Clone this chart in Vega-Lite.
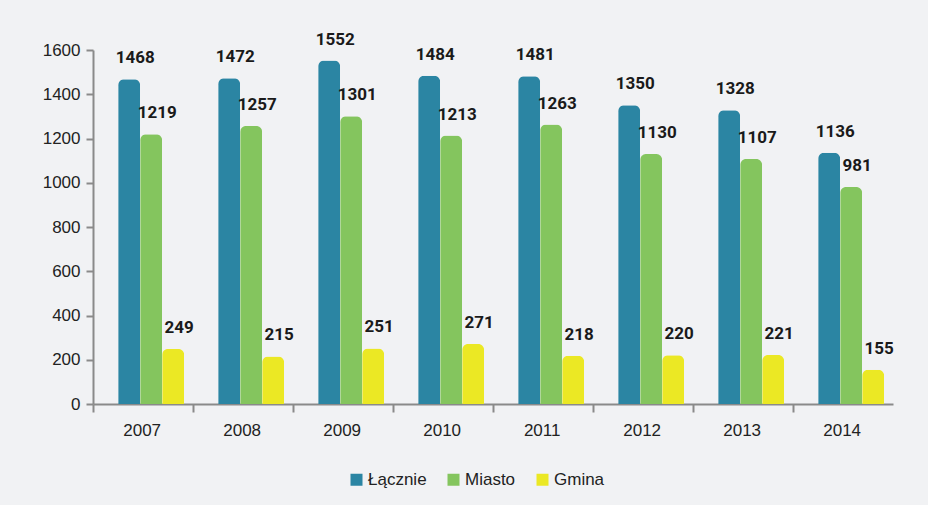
{
  "$schema": "https://vega.github.io/schema/vega-lite/v6.json",
  "autosize": "none",
  "width": 800,
  "height": 354,
  "padding": {"left": 93, "top": 50, "right": 35, "bottom": 101},
  "background": "#f1f2f4",
  "data": {"values": [
    {"rok": "2007", "seria": "Łącznie", "wartosc": 1468},
    {"rok": "2007", "seria": "Miasto", "wartosc": 1219},
    {"rok": "2007", "seria": "Gmina", "wartosc": 249},
    {"rok": "2008", "seria": "Łącznie", "wartosc": 1472},
    {"rok": "2008", "seria": "Miasto", "wartosc": 1257},
    {"rok": "2008", "seria": "Gmina", "wartosc": 215},
    {"rok": "2009", "seria": "Łącznie", "wartosc": 1552},
    {"rok": "2009", "seria": "Miasto", "wartosc": 1301},
    {"rok": "2009", "seria": "Gmina", "wartosc": 251},
    {"rok": "2010", "seria": "Łącznie", "wartosc": 1484},
    {"rok": "2010", "seria": "Miasto", "wartosc": 1213},
    {"rok": "2010", "seria": "Gmina", "wartosc": 271},
    {"rok": "2011", "seria": "Łącznie", "wartosc": 1481},
    {"rok": "2011", "seria": "Miasto", "wartosc": 1263},
    {"rok": "2011", "seria": "Gmina", "wartosc": 218},
    {"rok": "2012", "seria": "Łącznie", "wartosc": 1350},
    {"rok": "2012", "seria": "Miasto", "wartosc": 1130},
    {"rok": "2012", "seria": "Gmina", "wartosc": 220},
    {"rok": "2013", "seria": "Łącznie", "wartosc": 1328},
    {"rok": "2013", "seria": "Miasto", "wartosc": 1107},
    {"rok": "2013", "seria": "Gmina", "wartosc": 221},
    {"rok": "2014", "seria": "Łącznie", "wartosc": 1136},
    {"rok": "2014", "seria": "Miasto", "wartosc": 981},
    {"rok": "2014", "seria": "Gmina", "wartosc": 155}
  ]},
  "encoding": {
    "x": {
      "field": "rok", "type": "nominal",
      "scale": {"paddingInner": 0.34, "paddingOuter": 0.17, "align": 0.74},
      "axis": {
        "title": null, "labelAngle": 0, "labelFontSize": 17, "labelFont": "Liberation Sans",
        "labelColor": "#222222", "domainColor": "#8a8a8a", "domainWidth": 2,
        "tickColor": "#8a8a8a", "tickWidth": 2, "tickSize": 8, "bandPosition": -0.38,
        "labelPadding": 10, "labelOffset": -9
      }
    },
    "xOffset": {"field": "seria", "type": "nominal", "sort": ["Łącznie", "Miasto", "Gmina"]},
    "y": {
      "field": "wartosc", "type": "quantitative",
      "scale": {"domain": [0, 1600]},
      "axis": {
        "title": null, "grid": false, "values": [0,200,400,600,800,1000,1200,1400,1600],
        "format": "d", "labelOverlap": false,
        "labelFontSize": 17, "labelFont": "Liberation Sans", "labelColor": "#222222",
        "domainColor": "#8a8a8a", "domainWidth": 2, "tickColor": "#8a8a8a", "tickWidth": 2,
        "tickSize": 7, "labelPadding": 6
      }
    }
  },
  "layer": [
    {
      "mark": {"type": "bar", "cornerRadiusTopLeft": 6, "cornerRadiusTopRight": 6},
      "encoding": {
        "color": {
          "field": "seria", "type": "nominal",
          "scale": {"domain": ["Łącznie", "Miasto", "Gmina"], "range": ["#2b85a3", "#84c55e", "#ebe824"]},
          "legend": {
            "title": null, "orient": "none", "legendX": 255, "legendY": 421, "direction": "horizontal",
            "symbolType": "square", "symbolSize": 144, "symbolStrokeWidth": 0,
            "labelFontSize": 17, "labelFont": "Liberation Sans", "labelColor": "#222222",
            "columnPadding": 18, "labelOffset": 3
          }
        }
      }
    },
    {
      "mark": {"type": "text", "baseline": "bottom", "dy": -12, "dx": 6, "fontSize": 17, "fontWeight": "bold", "font": "Roboto", "color": "#1a1a1a"},
      "encoding": {"text": {"field": "wartosc", "type": "quantitative"}}
    }
  ],
  "config": {"view": {"stroke": null}}
}
